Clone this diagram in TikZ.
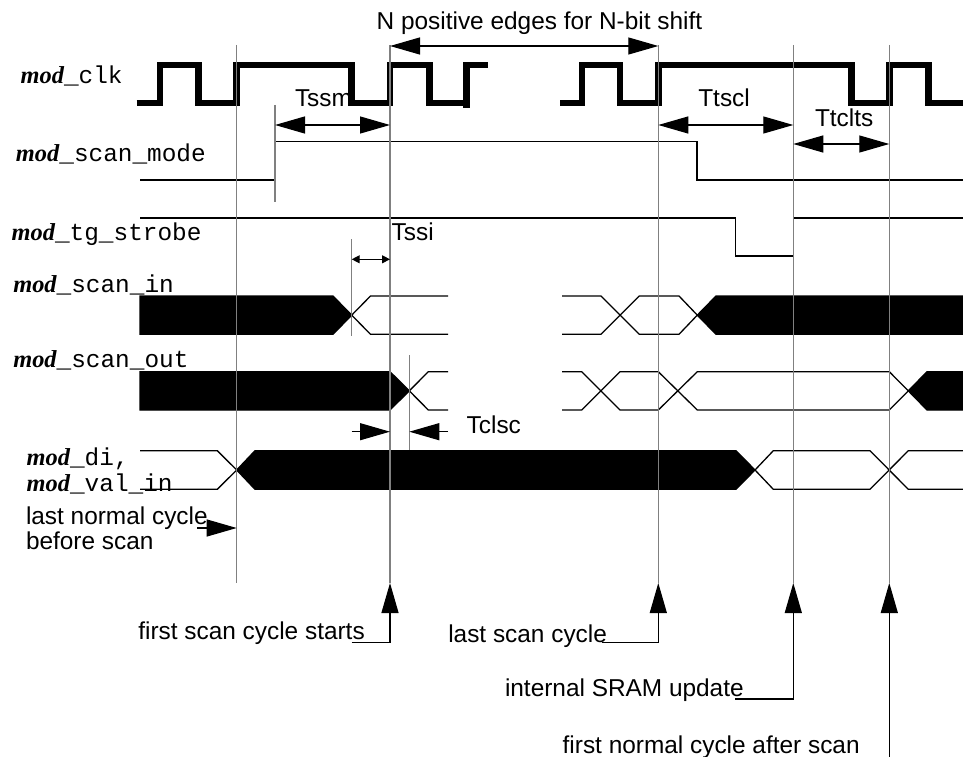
\documentclass[tikz,border=0pt]{standalone}
\usepackage{fontspec}
\setmainfont{Liberation Sans}
\newfontfamily\serifbi{Liberation Serif}
\newfontfamily\monof{Liberation Mono}
\usetikzlibrary{arrows.meta}
\newcommand{\signame}[1]{{\serifbi\bfseries\itshape mod}{\monof\_#1}}
\begin{document}
\begin{tikzpicture}[x=1pt,y=-1pt,
  every node/.style={inner sep=0pt,outer sep=0pt},
  lbl/.style={font=\fontsize{24.4}{28}\selectfont,anchor=base west},
  clk/.style={line width=6.6pt,line join=miter},
  sigl/.style={line width=1.3pt,line join=miter},
  busfill/.style={line width=1.3pt,fill=black,draw=black,line join=miter},
  guide/.style={line width=1.1pt,draw={rgb,255:red,128;green,128;blue,128}},
  bigdbl/.style={line width=1.2pt,{Triangle[length=30pt,width=17pt]}-{Triangle[length=30pt,width=17pt]}},
  bigone/.style={line width=1.2pt,-{Triangle[length=30pt,width=17pt]}},
  smalldbl/.style={line width=1.2pt,{Triangle[length=8pt,width=8pt]}-{Triangle[length=8pt,width=8pt]}}]
\useasboundingbox (0,0) rectangle (963,757);

% bus fills
\path[busfill] (140,296) -- (333,296) -- (351.7,315.15) -- (333,334.3) -- (140,334.3) -- cycle;
\path[busfill] (697.3,315.15) -- (716,296) -- (963,296) -- (963,334.3) -- (716,334.3) -- cycle;
\path[busfill] (140,371.7) -- (390,371.7) -- (409.3,390.85) -- (390,410) -- (140,410) -- cycle;
\path[busfill] (908.3,390.85) -- (927,371.7) -- (963,371.7) -- (963,410) -- (927,410) -- cycle;
\path[busfill] (236.7,470) -- (255,450.7) -- (736,450.7) -- (755,470) -- (736,489.3) -- (255,489.3) -- cycle;

% bus open lines
\draw[sigl] (448,296) -- (370.5,296) -- (351.7,315.15) -- (370.5,334.3) -- (448,334.3);
\draw[sigl] (562,296) -- (601,296) -- (639.3,334.3) -- (679,334.3) -- (697.3,315.15);
\draw[sigl] (562,334.3) -- (601,334.3) -- (639.3,296) -- (679,296) -- (697.3,315.15);
\draw[sigl] (448,371.7) -- (428.3,371.7) -- (409.3,390.85) -- (428.3,410) -- (448,410);
\draw[sigl] (562,371.7) -- (581.7,371.7) -- (620,410) -- (658.3,410) -- (697.3,371.7) -- (889.3,371.7) -- (908.3,390.85);
\draw[sigl] (562,410) -- (581.7,410) -- (620,371.7) -- (658.3,371.7) -- (697.3,410) -- (889.3,410) -- (908.3,390.85);
\draw[sigl] (140,450.7) -- (217.3,450.7) -- (236.7,470) -- (217.3,489.3) -- (140,489.3);
\draw[sigl] (755,470) -- (773.3,450.7) -- (870,450.7) -- (908.3,489.3) -- (963,489.3);
\draw[sigl] (755,470) -- (773.3,489.3) -- (870,489.3) -- (908.3,450.7) -- (963,450.7);

% scan mode and strobe
\draw[sigl] (140,180) -- (275,180) -- (275,141.7) -- (697,141.7) -- (697,180) -- (963,180);
\draw[sigl] (140,218) -- (735.7,218) -- (735.7,256) -- (793.3,256) -- (793.3,218) -- (963,218);

% clock
\draw[clk] (136.7,103) -- (160,103) -- (160,65) -- (198.3,65) -- (198.3,103) -- (236.7,103) -- (236.7,65) -- (351.7,65) -- (351.7,103) -- (390,103) -- (390,65) -- (429.3,65) -- (429.3,103) -- (466.7,103);
\draw[clk] (466.7,108) -- (466.7,65) -- (488.3,65);
\draw[clk] (560,103) -- (582,103) -- (582,65) -- (620,65) -- (620,103) -- (658.3,103) -- (658.3,65) -- (851.7,65) -- (851.7,103) -- (889.3,103) -- (889.3,65) -- (928.3,65) -- (928.3,103) -- (963,103);

% guide lines
\coordinate (g1t) at (236.7,45); \coordinate (g1b) at (236.7,583);
\coordinate (g2t) at (390,45);   \coordinate (g2b) at (390,583);
\coordinate (g3t) at (658.3,45); \coordinate (g3b) at (658.3,583);
\coordinate (g4t) at (793.3,45); \coordinate (g4b) at (793.3,583);
\coordinate (g5t) at (889.3,45); \coordinate (g5b) at (889.3,583);
\draw[guide] (g1t) -- (g1b);
\draw[guide] (g2t) -- (g2b);
\draw[guide] (g3t) -- (g3b);
\draw[guide] (g4t) -- (g4b);
\draw[guide] (g5t) -- (g5b);
\draw[guide] (275,105) -- (275,202);
\draw[guide] (351.7,239) -- (351.7,336);
\draw[guide] (409.3,355) -- (409.3,450);

% timing arrows
\draw[bigdbl] (390,46) -- (658.3,46);
\draw[bigdbl] (275,125) -- (390,125);
\draw[bigdbl] (658.3,125) -- (793.3,125);
\draw[bigdbl] (793.3,144) -- (889.3,144);
\draw[smalldbl] (351.7,259.3) -- (390,259.3);
\draw[bigone] (351.7,431.7) -- (390,431.7);
\draw[bigone] (448,431.7) -- (409.3,431.7);
\draw[bigone] (197,528) -- (g1b |- 0,528);

% bottom callouts
\draw[bigone] (351.7,642.7) -| (g2b);
\draw[bigone] (601.7,642.7) -| (g3b);
\draw[bigone] (735,699) -| (g4b);
\draw[bigone] (889.3,757) -- (g5b);

% texts
\node[lbl] (tn) at (376.7,30) {N positive edges for N-bit shift};
\node[lbl] (tssm) at (295,106.7) {Tssm};
\node[lbl] (ttscl) at (698.3,106.7) {Ttscl};
\node[lbl] (ttclts) at (815,126.7) {Ttclts};
\node[lbl] (tssi) at (391.7,240.7) {Tssi};
\node[lbl] (tclsc) at (466.7,433.3) {Tclsc};
\node[lbl] (ln1) at (26,524) {last normal cycle};
\node[lbl] (ln2) at (26,549.3) {before scan};
\node[lbl] (fsc) at (138.3,639.3) {first scan cycle starts};
\node[lbl] (lsc) at (448.3,642.7) {last scan cycle};
\node[lbl] (isu) at (505,696.7) {internal SRAM update};
\node[lbl] (fnc) at (562.7,753.3) {first normal cycle after scan};

% signal names
\node[lbl] (sclk) at (20.7,84) {\signame{clk}};
\node[lbl] (smode) at (16,161.7) {\signame{scan\_mode}};
\node[lbl] (sstr) at (11.7,240.7) {\signame{tg\_strobe}};
\node[lbl] (sin) at (13.3,292.7) {\signame{scan\_in}};
\node[lbl] (sout) at (13.3,367.3) {\signame{scan\_out}};
\node[lbl] (sdi) at (26.7,465) {\signame{di,}};
\node[lbl] (sval) at (26.7,491.7) {\signame{val\_in}};
\end{tikzpicture}
\end{document}
